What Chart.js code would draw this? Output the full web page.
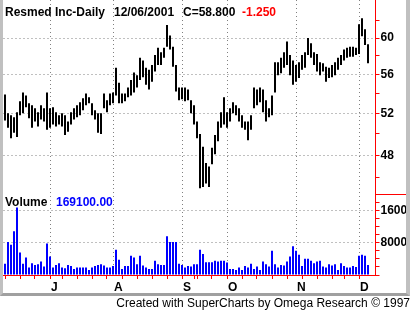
<!DOCTYPE html>
<html>
<head>
<meta charset="utf-8">
<script src="https://cdn.jsdelivr.net/npm/chart.js@4"></script>
<style>
  body { margin: 0; width: 410px; height: 311px; overflow: hidden; position: relative; background: #fff;
         font-family: "Liberation Sans", Arial, sans-serif; }
  #wrap { position: absolute; left: 3px; top: 0; width: 404px; height: 292px; }
  #frame { position: absolute; left: 0; top: 0; width: 403px; height: 293px; box-sizing: content-box;
           border-left: 3px solid #c0c0c0; border-right: 4px solid #c0c0c0; border-bottom: 3px solid #a0a0a0;
           pointer-events: none; }
  .t { position: absolute; font-size: 12px; font-weight: bold; line-height: 14px; white-space: nowrap; }
  #sep { position: absolute; left: 375px; top: 194px; width: 32px; height: 1px; background: #ff0000; }
  #foot { position: absolute; right: 0; top: 296px; font-size: 12px; line-height: 14px; white-space: nowrap; color: #000; }
</style>
</head>
<body>
<div id="wrap"><canvas id="c" width="404" height="292"></canvas></div>
<div id="sep"></div>
<div id="frame"></div>
<div class="t" style="left:5px;top:5px">Resmed Inc-Daily</div>
<div class="t" style="left:114px;top:5px">12/06/2001</div>
<div class="t" style="left:183px;top:5px">C=58.800</div>
<div class="t" style="left:242px;top:5px;color:#ff0000">-1.250</div>
<div class="t" style="left:5px;top:195px">Volume</div>
<div class="t" style="left:56px;top:195px;color:#0000ff">169100.00</div>
<div id="foot">Created with SuperCharts by Omega Research © 1997</div>
<script>
// trading days, June 11 - Dec 6, 2001
const jun = [11,12,13,14,15,18,19,20,21,22,25,26,27,28,29];
const jul = [2,3,5,6,9,10,11,12,13,16,17,18,19,20,23,24,25,26,27,30,31];
const aug = [1,2,3,6,7,8,9,10,13,14,15,16,17,20,21,22,23,24,27,28,29,30,31];
const sep = [4,5,6,7,10,17,18,19,20,21,24,25,26,27,28];
const oct = [1,2,3,4,5,8,9,10,11,12,15,16,17,18,19,22,23,24,25,26,29,30,31];
const nov = [1,2,5,6,7,8,9,12,13,14,15,16,19,20,21,23,26,27,28,29,30];
const dec = [3,4,5,6];
const months = [jun, jul, aug, sep, oct, nov, dec];
const monthLetters = ['J', 'J', 'A', 'S', 'O', 'N', 'D'];

const highs = [
  53.9,52.0,51.8,51.6,52.1,53.2,54.1,53.8,53.0,52.8,52.5,52.1,52.8,52.5,54.1,
  52.5,52.6,52.1,51.8,52.0,51.8,51.2,52.1,52.5,52.8,53.1,53.5,54.0,53.6,53.0,52.3,52.0,52.0,54.0,53.3,54.0,
  54.1,56.7,55.1,54.0,54.0,54.6,55.4,56.2,55.9,57.8,57.5,56.7,56.5,57.0,58.1,58.9,58.4,58.9,61.5,60.3,59.0,57.0,54.6,
  54.6,54.6,54.4,53.3,52.8,51.2,50.0,48.8,47.3,47.0,48.7,49.9,51.2,52.1,53.6,
  52.1,52.5,53.1,52.8,52.5,51.8,51.2,51.2,51.8,54.6,54.4,54.6,54.4,53.3,52.5,53.8,57.3,57.3,57.8,58.4,59.6,58.1,57.5,
  57.0,57.3,58.1,58.4,60.0,59.4,58.4,58.2,57.3,57.2,56.8,56.7,57.0,57.3,57.8,58.1,58.7,58.9,59.0,59.0,58.9,
  61.6,62.3,61.0,59.3
];
const lows = [
  51.3,50.6,49.6,50.1,49.7,51.8,52.0,52.6,51.5,50.6,51.2,50.7,51.4,51.2,50.4,
  50.6,50.9,50.7,50.9,50.7,49.9,50.2,50.9,51.4,51.6,51.8,52.3,52.8,53.0,51.8,51.4,50.1,50.0,52.5,52.1,52.8,
  53.0,53.8,53.0,53.0,53.2,53.6,53.8,54.1,54.6,55.4,55.7,54.9,54.4,55.2,56.3,57.0,57.0,57.8,59.0,58.7,56.8,54.2,53.3,
  53.4,53.2,53.3,52.0,50.9,49.6,45.1,45.2,45.5,45.2,47.2,48.1,49.3,50.6,50.9,
  50.6,51.2,52.0,51.8,51.2,50.6,50.4,49.4,50.4,52.5,52.8,53.1,52.1,51.2,51.6,51.8,54.1,55.9,56.1,56.7,57.0,55.9,54.9,
  55.2,55.6,56.5,56.7,58.1,57.8,57.0,56.3,55.9,56.3,55.2,55.6,55.7,55.9,56.5,57.0,57.5,57.8,57.9,57.9,58.1,
  58.2,60.2,59.2,57.2
];
const volumes = [
  2750,8170,7500,10830,16670,5580,2750,4330,1830,2920,2500,2670,3330,2080,7750,
  4580,1830,2500,2920,1830,1670,2500,2250,1500,1830,1830,1830,1830,1250,1830,2250,2500,2670,2330,1830,1830,
  2250,6250,3750,1500,2250,2250,4750,4330,2670,4750,2330,1830,1500,1500,3500,2670,2500,2500,9580,8170,8170,8170,2750,
  2500,1830,2250,2080,2670,2670,6250,5170,3170,3170,3170,3500,3330,3500,3500,
  3080,1500,1500,1250,1830,1250,2250,1830,2750,1500,2080,1250,3330,2670,2080,6000,2670,1830,2500,2330,3330,4580,7080,
  6000,5000,2250,4000,4000,3500,2920,3330,3500,2080,1830,2670,2330,2670,1250,2920,2250,1830,1830,2250,2000,
  4750,5000,4750,2500
];
const priceTicks = [46, 48, 50, 52, 54, 56, 58, 60, 62];
const priceLabelStep = 4;
const volumeTicks = [0, 2000, 4000, 6000, 8000, 10000, 12000, 14000, 16000, 18000, 20000];
const volumeLabels = [8000, 16000];

const red = '#ff0000';
const grey = '#808080';
const none = 'rgba(0,0,0,0)';
const font = { family: '"Liberation Sans", Arial, sans-serif', size: 12, weight: 'bold' };

// build category labels, month marks and weekly tick marks
const labels = [], monthLabel = [], weekStart = [];
let prev = null;
months.forEach((days, m) => {
  days.forEach((d, k) => {
    const dt = new Date(2001, 5 + m, d);
    labels.push((6 + m) + '/' + d);
    monthLabel.push(k === 0 && d <= 7 ? monthLetters[m] : '');
    weekStart.push(prev === null || dt.getDay() <= prev.getDay() || (dt - prev) > 6 * 864e5);
    prev = dt;
  });
});
// two empty slots after the last bar
labels.push('', '');
monthLabel.push('', '');
weekStart.push(false, false);

const ranges = lows.map((l, i) => [l, highs[i]]);

new Chart(document.getElementById('c'), {
  data: {
    labels: labels,
    datasets: [
      { type: 'bar', data: ranges, yAxisID: 'y', backgroundColor: '#000000', borderWidth: 0,
        barThickness: 2, grouped: false, inflateAmount: 0 },
      { type: 'bar', data: volumes, yAxisID: 'v', backgroundColor: '#0000ff', borderWidth: 0,
        barThickness: 2, grouped: false, inflateAmount: 0 }
    ]
  },
  options: {
    responsive: false,
    animation: false,
    events: [],
    layout: { padding: { left: 0.5, top: 0, right: 0, bottom: 0 } },
    plugins: { legend: { display: false }, tooltip: { enabled: false } },
    scales: {
      x: {
        type: 'category',
        offset: true,
        grid: {
          offset: false,
          color: c => monthLabel[c.index] ? grey : none,
          tickColor: c => weekStart[c.index] ? red : none,
          tickLength: 4
        },
        border: { color: red, dash: [1, 3] },
        ticks: {
          autoSkip: false, maxRotation: 0, minRotation: 0, align: 'start', labelOffset: 1, padding: 1,
          color: '#000', font: font,
          callback: (v, i) => monthLabel[i]
        },
        afterFit: s => { s.height = 17; s.paddingLeft = 0; s.paddingRight = 0; }
      },
      y: {
        type: 'logarithmic',
        position: 'right',
        stack: 'panels',
        stackWeight: 194,
        min: 44.6,
        max: 64.5,
        afterBuildTicks: s => { s.ticks = priceTicks.map(v => ({ value: v })); },
        grid: {
          color: c => (c.tick && c.tick.value % priceLabelStep === 0) ? grey : none,
          tickColor: red,
          tickLength: 4
        },
        border: { color: red, dash: [1, 3] },
        ticks: {
          autoSkip: false, padding: 1, color: '#000', font: font,
          callback: v => v % priceLabelStep === 0 ? String(v) : ''
        },
        afterFit: s => { s.width = 31.5; s.paddingTop = 0; s.paddingBottom = 0; }
      },
      v: {
        type: 'linear',
        position: 'right',
        stack: 'panels',
        stackWeight: 81,
        min: 0,
        max: 20000,
        afterBuildTicks: s => { s.ticks = volumeTicks.map(v => ({ value: v })); },
        grid: {
          color: c => (c.tick && volumeLabels.includes(c.tick.value)) ? grey : none,
          tickColor: red,
          tickLength: 4
        },
        border: { color: red, dash: [1, 3] },
        ticks: {
          autoSkip: false, padding: 1, color: '#000', font: font,
          callback: v => volumeLabels.includes(v) ? String(v) : ''
        },
        afterFit: s => { s.width = 31.5; s.paddingTop = 0; s.paddingBottom = 0; }
      }
    }
  }
});
</script>
</body>
</html>
